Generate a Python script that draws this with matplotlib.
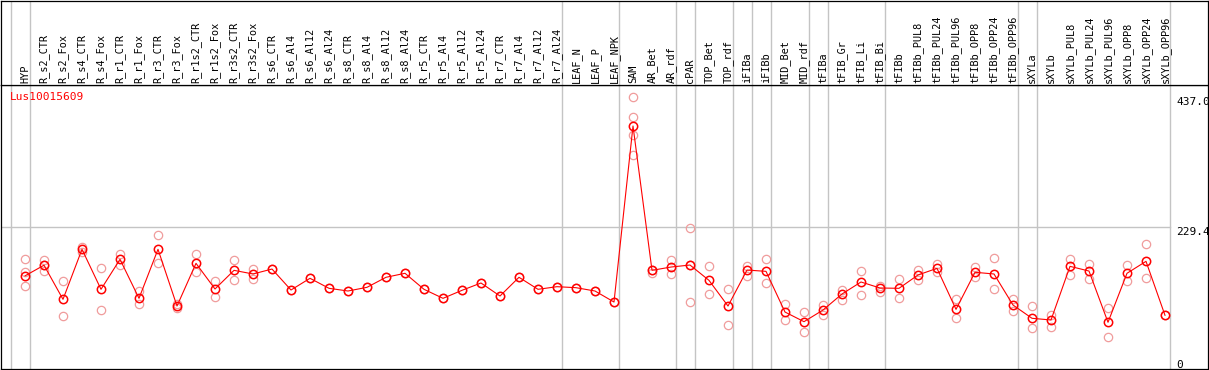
import numpy as np
import matplotlib
matplotlib.use("Agg")
import matplotlib.pyplot as plt

gene = "Lus10015609"

samples = [
    "HYP", "R_s2_CTR", "R_s2_Fox", "R_s4_CTR", "R_s4_Fox", "R_r1_CTR", "R_r1_Fox",
    "R_r3_CTR", "R_r3_Fox", "R_r1s2_CTR", "R_r1s2_Fox", "R_r3s2_CTR", "R_r3s2_Fox",
    "R_s6_CTR", "R_s6_Al4", "R_s6_Al12", "R_s6_Al24", "R_s8_CTR", "R_s8_Al4",
    "R_s8_Al12", "R_s8_Al24", "R_r5_CTR", "R_r5_Al4", "R_r5_Al12", "R_r5_Al24",
    "R_r7_CTR", "R_r7_Al4", "R_r7_Al12", "R_r7_Al24", "LEAF_N", "LEAF_P", "LEAF_NPK",
    "SAM", "AR_Bet", "AR_rdf", "cPAR", "TOP_Bet", "TOP_rdf", "iFIBa", "iFIBb",
    "MID_Bet", "MID_rdf", "tFIBa", "tFIB_Gr", "tFIB_Li", "tFIB_Bi", "tFIBb",
    "tFIBb_PUL8", "tFIBb_PUL24", "tFIBb_PUL96", "tFIBb_OPP8", "tFIBb_OPP24",
    "tFIBb_OPP96", "sXYLa", "sXYLb", "sXYLb_PUL8", "sXYLb_PUL24", "sXYLb_PUL96",
    "sXYLb_OPP8", "sXYLb_OPP24", "sXYLb_OPP96",
]

means = [
    152, 169, 114.5, 194.4, 130.5, 178.4, 116.1, 194.4, 103.8, 172.0, 131.0,
    160.8, 155.0, 162.9, 129.4, 148.1, 132.1, 127.8, 133.7, 149.7, 156.1,
    130.5, 116.1, 128.9, 140.6, 119.8, 149.7, 130.5, 134.7, 133.1, 127.8,
    110.2, 391.4, 160.8, 166.1, 169.3, 144.8, 103.8, 161.3, 159.2, 94.2,
    78.8, 97.4, 123.0, 142.2, 132.6, 132.1, 153.4, 164.0, 98.5, 157.7,
    155.0, 105.4, 84.2, 81.5, 167.2, 159.7, 77.8, 156.1, 175.2, 89.0,
]

reps = [
    [178.4, 157.7, 135.3], [177.3, 160.2, 168.8], [143.3, 87.4], [198.6, 190.0],
    [164.0, 97.0], [186.9, 169.3], [128.3, 106.5], [217.3, 172.0], [107.0, 100.1],
    [186.9, 157.7], [143.3, 117.7], [177.3, 145.4], [162.4, 146.5], [162.9],
    [129.4], [148.1], [132.1], [127.8], [133.7], [149.7], [156.1], [130.5],
    [116.1], [128.9], [140.6], [119.8], [149.7], [130.5], [134.7], [133.1],
    [127.8], [110.2], [437.0, 405.8, 377.0, 345.0], [162.0, 157.0],
    [177.3, 154.4], [228.4, 110.2, 169.0], [167.2, 122.5], [131.5, 73.0],
    [168.2, 152.2], [178.9, 140.1], [106.5, 81.5], [94.2, 62.3], [105.4, 90.0],
    [129.9, 113.9], [159.2, 120.8], [136.3, 125.7], [146.5, 117.1],
    [160.8, 145.4], [170.4, 157.7], [114.5, 84.2], [166.6, 150.6],
    [180.0, 130.5], [115.0, 96.3], [103.4, 68.2], [90.0, 70.8], [178.9, 153.8],
    [170.9, 147.4], [100.2, 54.3], [168.8, 143.3], [202.4, 148.1], [89.0],
]

# last sample index of each group (-1 = left edge)
group_ends = [-1, 0, 28, 31, 34, 35, 37, 38, 39, 41, 42, 45, 52, 53, 60]

ref_level = 229.4
tick_vals = [437.0, 229.4, 0]
tick_text = ["437.0", "229.4", "0"]

W, H = 1209, 370
fig = plt.figure(figsize=(W / 100, H / 100), dpi=100)

left = 1 / W
width = 1207 / W
ax = fig.add_axes([left, 1 / H, width, 284 / H])
hx = fig.add_axes([left, 285 / H, width, 84.5 / H])

x = np.arange(len(samples))
xlim = (-24 / 19, 1183 / 19)
grey = "#c4c4c4"

for a in (ax, hx):
    a.set_xlim(*xlim)
    a.set_xticks([])
    a.set_yticks([])
    for s in a.spines.values():
        s.set_linewidth(0.9)
        s.set_color("black")
    for g in group_ends:
        a.axvline(g + 5 / 19, color=grey, lw=1.0, zorder=0)

hx.set_ylim(0, 1)
for i, name in enumerate(samples):
    hx.text(i, 0.02, name, rotation=90, ha="center", va="bottom",
            fontsize=7.4, family="DejaVu Sans Mono")

ax.set_ylim(3.2, 456.9)
ax.plot([xlim[0], group_ends[-1] + 5 / 19], [ref_level, ref_level],
        color=grey, lw=1.0, zorder=0)

for i, r in enumerate(reps):
    ax.plot([i] * len(r), r, "o", ms=6, mfc="none", mec="#f09c9c", mew=0.9, zorder=2)

ax.plot(x, means, "-", color="red", lw=0.8, zorder=3)
ax.plot(x, means, "o", ms=6, mfc="none", mec="red", mew=1.1, zorder=4)

ax.text(9 / 1207, 1 - 12 / 284, gene, transform=ax.transAxes, color="red",
        fontsize=8, va="center", ha="left", family="DejaVu Sans Mono")

tx = (1176 - 25) / 19
for v, t in zip(tick_vals, tick_text):
    ax.text(tx, max(v, 10), t, ha="left", va="top" if v > 0 else "center",
            fontsize=8, family="DejaVu Sans Mono", clip_on=False)

fig.savefig("out.png", dpi=100)
